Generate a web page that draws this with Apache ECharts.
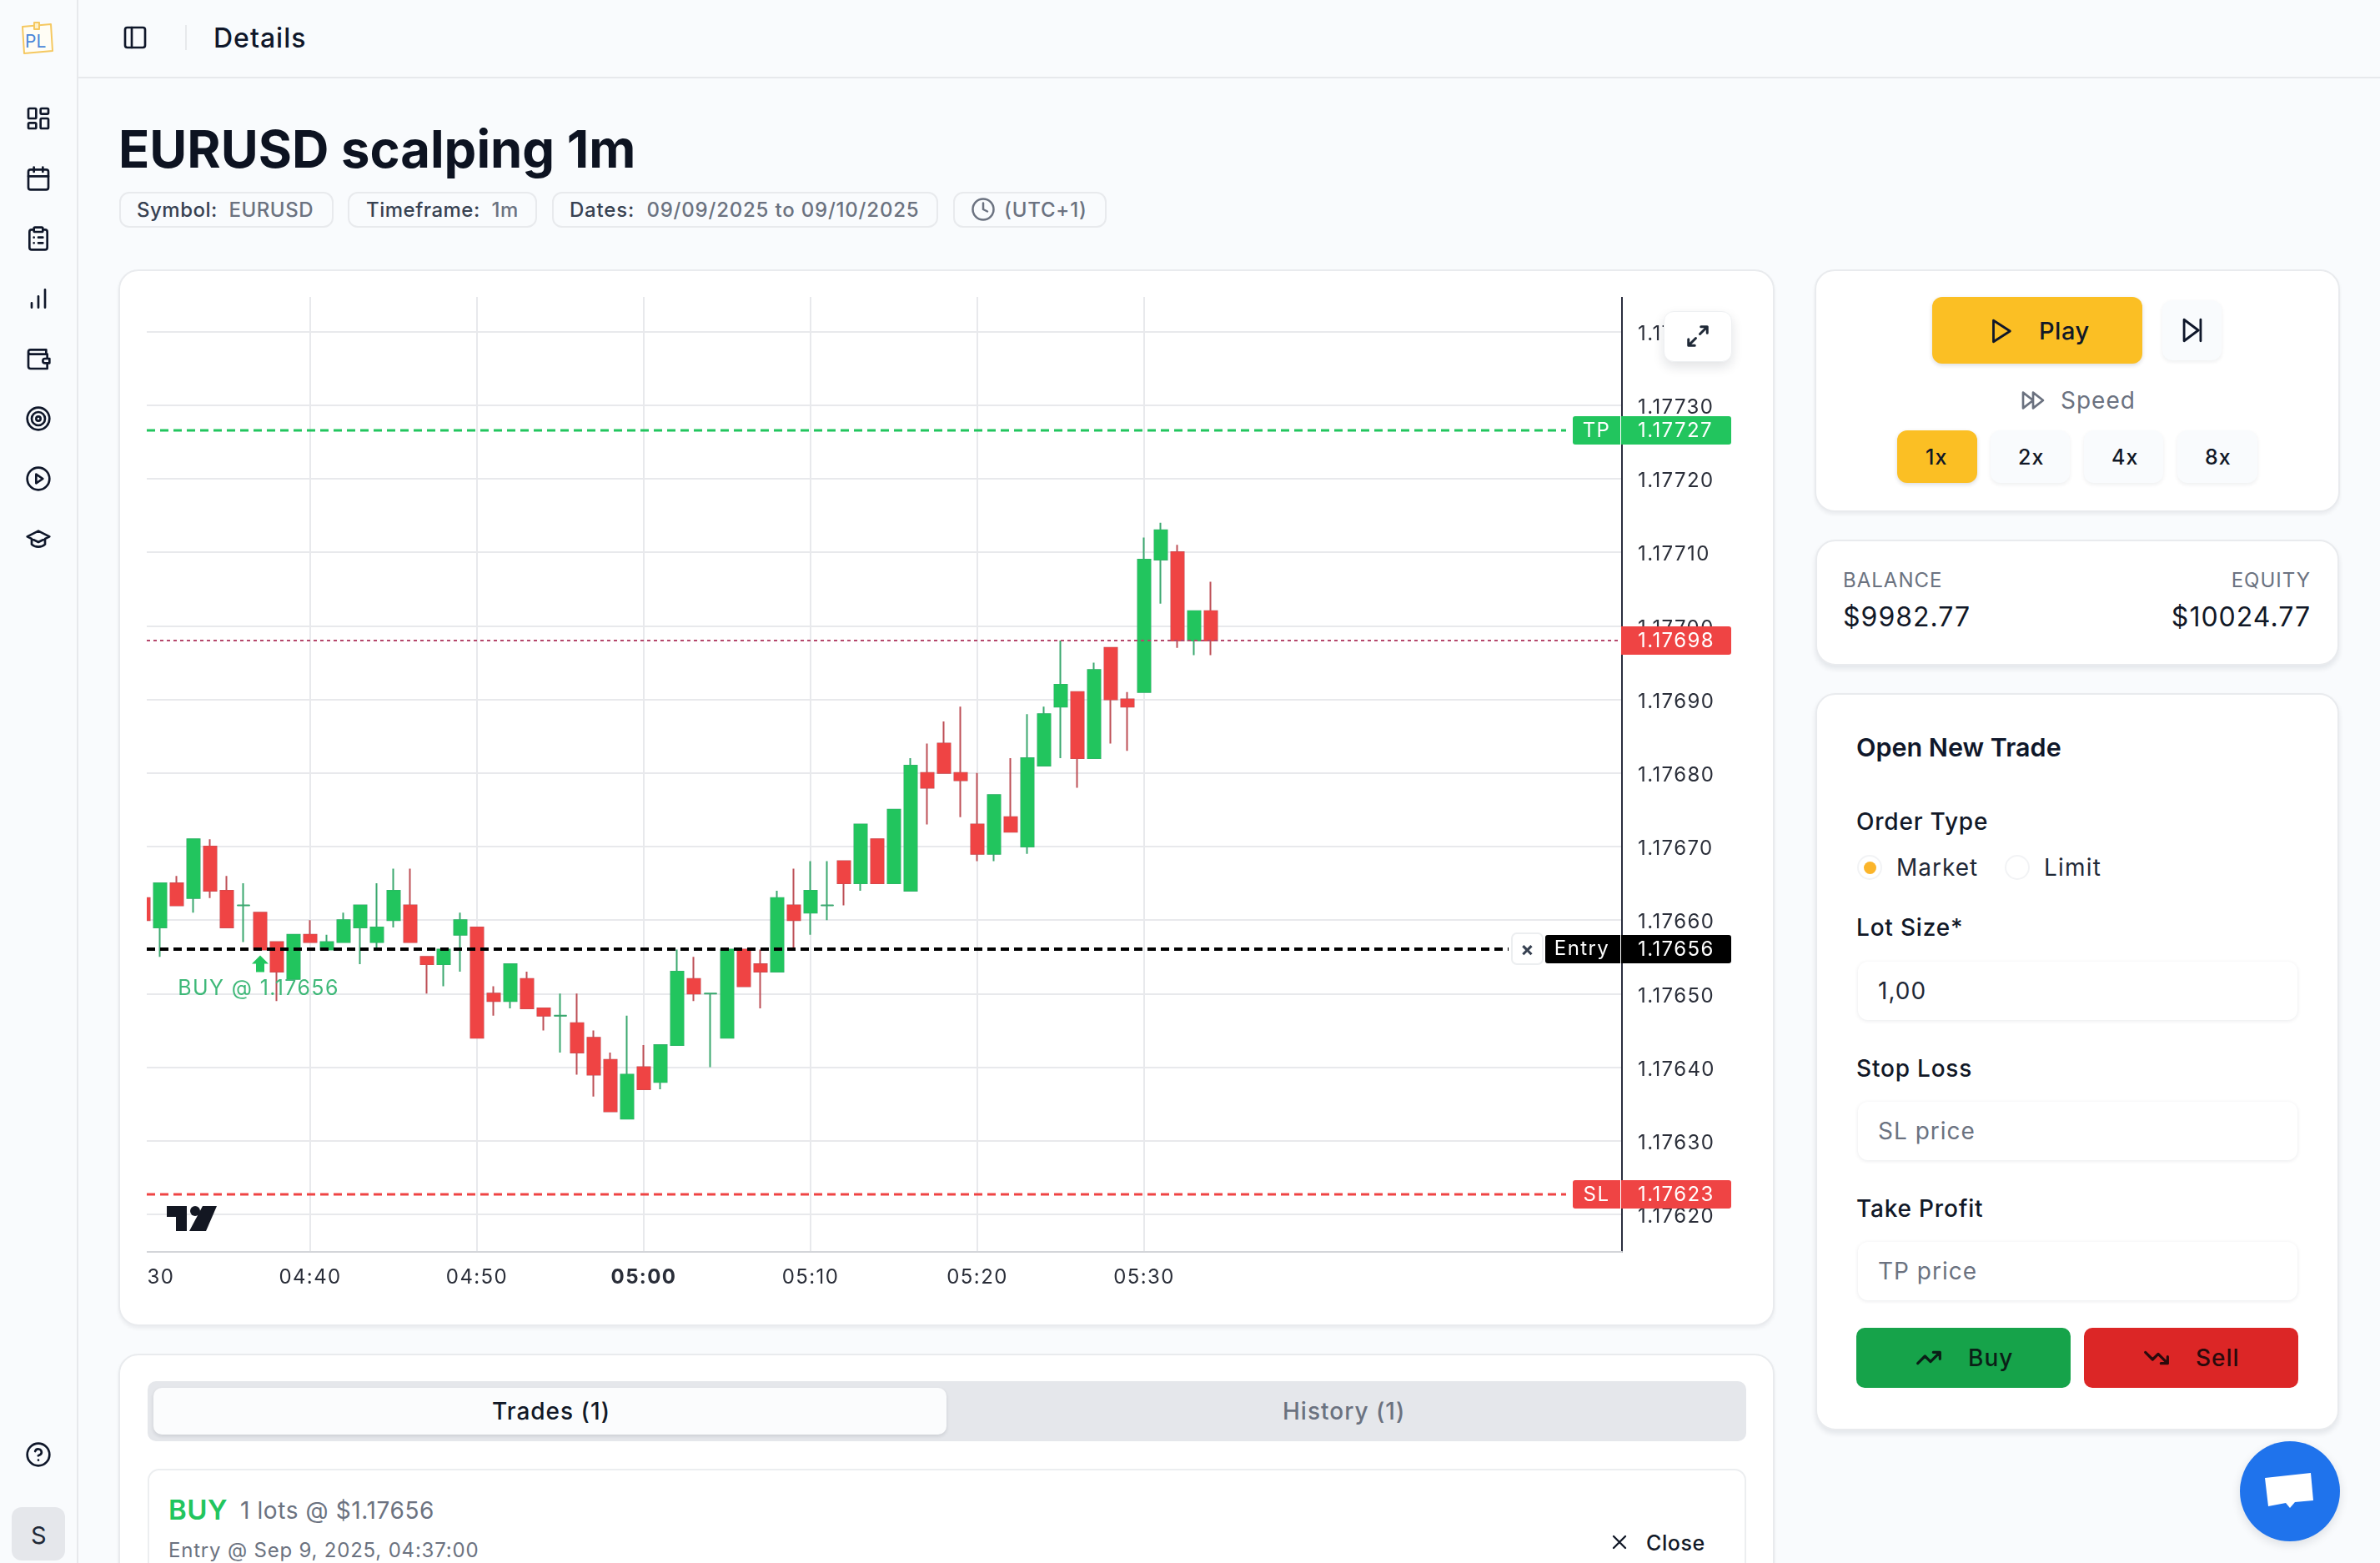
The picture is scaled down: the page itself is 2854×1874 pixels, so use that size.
<!DOCTYPE html>
<html>
<head>
<meta charset="utf-8">
<title>EURUSD scalping 1m</title>
<script src="https://cdn.jsdelivr.net/npm/echarts@6/dist/echarts.min.js"></script>
<style>
html,body{margin:0;padding:0;width:2854px;height:1874px;overflow:hidden;background:#f9fbfd;font-family:Inter,sans-serif;color:#0f172a}
.t{position:absolute;transform:translateY(-50%);white-space:nowrap;letter-spacing:1px}
.b{position:absolute;box-sizing:border-box}
.card{background:#fff;border:2px solid #e9ebee;border-radius:24px;box-shadow:0 3px 4px rgba(15,23,42,.06)}
.pill{border:2px solid #e8eaed;border-radius:12px;top:230px;height:43px}
.ptxt{top:251px;font-size:24px;color:#374151;font-weight:500;letter-spacing:.5px}
.soft{background:#f9fbfd;border-radius:12px;box-shadow:0 2px 5px rgba(15,23,42,.07)}
.yellow{background:#fbbf24;border-radius:12px;box-shadow:0 2px 5px rgba(15,23,42,.15)}
.inp{background:#fff;border-radius:12px;left:2228px;width:527px;height:70px;box-shadow:0 1px 5px rgba(15,23,42,.09)}
.lab{font-size:28px;font-weight:500;left:2226px;color:#111827;letter-spacing:.8px}
.grey{color:#6b7280}
svg{position:absolute;fill:none;stroke:#0f172a;stroke-width:2;stroke-linecap:round;stroke-linejoin:round}
#chart{position:absolute;left:176px;top:356px;width:1910px;height:1210px}
</style>
</head>
<body>
<!-- sidebar + header -->
<div class="b" style="left:92px;top:0;width:2px;height:1874px;background:#e7e9ec"></div>
<div class="b" style="left:92px;top:92px;width:2762px;height:2px;background:#e7e9ec"></div>
<svg style="left:25px;top:26px" width="40" height="40" viewBox="0 0 40 40"><path d="M2 6 L36 3 L38 35 L4 38 Z" stroke="#f5c860" fill="#fffdf5"/><rect x="16" y="1" width="6" height="8" stroke="#f5c860" fill="#fdf0c8"/><text x="5" y="31" font-family="Inter" font-size="21" fill="#4a86d8" stroke="none">PL</text></svg>
<svg style="left:30px;top:126px" width="32" height="32" viewBox="0 0 24 24"><rect x="3" y="3" width="7" height="9" rx="1"/><rect x="14" y="3" width="7" height="5" rx="1"/><rect x="14" y="12" width="7" height="9" rx="1"/><rect x="3" y="16" width="7" height="5" rx="1"/></svg>
<svg style="left:30px;top:198px" width="32" height="32" viewBox="0 0 24 24"><rect x="3" y="4" width="18" height="18" rx="2"/><path d="M8 2v4M16 2v4M3 10h18"/></svg>
<svg style="left:30px;top:270px" width="32" height="32" viewBox="0 0 24 24"><rect x="8" y="2" width="8" height="4" rx="1"/><path d="M16 4h2a2 2 0 0 1 2 2v14a2 2 0 0 1-2 2H6a2 2 0 0 1-2-2V6a2 2 0 0 1 2-2h2M12 11h4M12 16h4M8 11h.01M8 16h.01"/></svg>
<svg style="left:30px;top:342px" width="32" height="32" viewBox="0 0 24 24"><path d="M6 20v-4M12 20V10M18 20V4"/></svg>
<svg style="left:30px;top:414px" width="32" height="32" viewBox="0 0 24 24"><path d="M19 7V4H5a2 2 0 0 0 0 4h15v3M3 6v13a2 2 0 0 0 2 2h15v-5"/><path d="M18 12a2 2 0 0 0 0 4h4v-4z"/></svg>
<svg style="left:30px;top:486px" width="32" height="32" viewBox="0 0 24 24"><circle cx="12" cy="12" r="10"/><circle cx="12" cy="12" r="6"/><circle cx="12" cy="12" r="2"/></svg>
<svg style="left:30px;top:558px" width="32" height="32" viewBox="0 0 24 24"><circle cx="12" cy="12" r="10"/><path d="M10 8l6 4-6 4z"/></svg>
<svg style="left:30px;top:630px" width="32" height="32" viewBox="0 0 24 24"><path d="M22 10L12 5 2 10l10 5 10-5zM6 12v5c3 3 9 3 12 0v-5"/></svg>
<svg style="left:30px;top:1728px" width="32" height="32" viewBox="0 0 24 24"><circle cx="12" cy="12" r="10"/><path d="M9.1 9a3 3 0 0 1 5.8 1c0 2-3 3-3 3M12 17h.01"/></svg>
<div class="b" style="left:14px;top:1807px;width:64px;height:64px;border-radius:12px;background:#e5e7eb"></div>
<div class="t" style="left:37px;top:1840px;font-size:29px;color:#1f2937">S</div>
<svg style="left:146px;top:29px" width="32" height="32" viewBox="0 0 24 24"><rect x="3" y="3" width="18" height="18" rx="2"/><path d="M9 3v18"/></svg>
<div class="b" style="left:222px;top:30px;width:2px;height:30px;background:#e7e9ec"></div>
<div class="t" style="left:256px;top:45px;font-size:32px;font-weight:500">Details</div>

<!-- title row -->
<div class="t" style="left:142px;top:178px;font-size:61.5px;font-weight:700;letter-spacing:0;color:#0d1321">EURUSD scalping 1m</div>
<div class="b pill" style="left:143px;width:257px"></div>
<div class="t ptxt" style="left:164px">Symbol:&nbsp; <span class="grey">EURUSD</span></div>
<div class="b pill" style="left:417px;width:227px"></div>
<div class="t ptxt" style="left:439px">Timeframe:&nbsp; <span class="grey">1m</span></div>
<div class="b pill" style="left:662px;width:463px"></div>
<div class="t ptxt" style="left:683px;letter-spacing:.8px">Dates:&nbsp; <span class="grey">09/09/2025 to 09/10/2025</span></div>
<div class="b pill" style="left:1143px;width:184px"></div>
<svg style="left:1164px;top:236px;stroke:#6b7280" width="30" height="30" viewBox="0 0 24 24"><circle cx="12" cy="12" r="10"/><path d="M12 6v6l4 2"/></svg>
<div class="t ptxt" style="left:1204px;color:#6b7280;letter-spacing:.8px">(UTC+1)</div>

<!-- chart card -->
<div class="b card" style="left:142px;top:323px;width:1986px;height:1267px"></div>
<div id="chart"></div>
<svg style="left:200px;top:1446px;stroke:none;fill:#131722" width="60" height="30" viewBox="0 0 60 30"><path d="M0 0H24V30H11V13H0Z"/><circle cx="34" cy="6" r="6"/><path d="M43 0H60L47 30H27Z"/></svg>
<div class="b" style="left:1995px;top:373px;width:82px;height:61px;background:#fff;border-radius:12px;border:1px solid #eef0f2;box-shadow:0 6px 14px rgba(15,23,42,.12)"></div>
<svg style="left:2021px;top:388px;stroke:#1f2937;stroke-width:2.4" width="30" height="30" viewBox="0 0 24 24"><path d="M21 3l-7 7M3 21l7-7M15 3h6v6M3 15v6h6"/></svg>

<!-- trades panel -->
<div class="b card" style="left:142px;top:1623px;width:1986px;height:320px"></div>
<div class="b" style="left:177px;top:1656px;width:1917px;height:72px;border-radius:10px;background:#e5e7eb"></div>
<div class="b" style="left:184px;top:1664px;width:951px;height:56px;border-radius:10px;background:#fbfcfd;box-shadow:0 2px 4px rgba(15,23,42,.12)"></div>
<div class="t" style="left:590px;top:1692px;font-size:28px;font-weight:500;color:#111827">Trades (1)</div>
<div class="t" style="left:1538px;top:1692px;font-size:28px;font-weight:500;color:#6b7280">History (1)</div>
<div class="b" style="left:177px;top:1761px;width:1917px;height:200px;border-radius:14px;background:#fff;border:2px solid #eceef0"></div>
<div class="t" style="left:202px;top:1810px;font-size:33px;font-weight:600;color:#22c55e;letter-spacing:0.5px">BUY</div>
<div class="t" style="left:288px;top:1811px;font-size:28px;color:#6b7280;letter-spacing:.6px">1 lots @ $1.17656</div>
<div class="t" style="left:202px;top:1858px;font-size:24px;color:#6b7280;letter-spacing:.8px">Entry @ Sep 9, 2025, 04:37:00</div>
<svg style="left:1928px;top:1835px;stroke:#111827" width="28" height="28" viewBox="0 0 24 24"><path d="M18 6L6 18M6 6l12 12"/></svg>
<div class="t" style="left:1974px;top:1850px;font-size:25px;font-weight:500;color:#111827;letter-spacing:.6px">Close</div>

<!-- replay card -->
<div class="b card" style="left:2176px;top:323px;width:630px;height:291px"></div>
<div class="b yellow" style="left:2317px;top:356px;width:252px;height:80px"></div>
<svg style="left:2382px;top:380px" width="34" height="34" viewBox="0 0 24 24"><path d="M6 3l14 9-14 9z"/></svg>
<div class="t" style="left:2445px;top:396px;font-size:29px;font-weight:500;color:#111827;letter-spacing:0.5px">Play</div>
<div class="b soft" style="left:2593px;top:360px;width:71px;height:72px"></div>
<svg style="left:2612px;top:379px" width="34" height="34" viewBox="0 0 24 24"><path d="M5 3l12 9-12 9zM19 3v18"/></svg>
<svg style="left:2422px;top:464px;stroke:#6b7280" width="32" height="32" viewBox="0 0 24 24"><path d="M3 5l9 7-9 7zM12 5l9 7-9 7z"/></svg>
<div class="t" style="left:2471px;top:480px;font-size:28px;color:#6b7280">Speed</div>
<div class="b yellow" style="left:2275px;top:516px;width:96px;height:63px"></div>
<div class="b soft" style="left:2387px;top:516px;width:95px;height:63px"></div>
<div class="b soft" style="left:2499px;top:516px;width:95px;height:63px"></div>
<div class="b soft" style="left:2611px;top:516px;width:96px;height:63px"></div>
<div class="t" style="left:2309px;top:548px;font-size:25px;font-weight:500;color:#111827">1x</div>
<div class="t" style="left:2420px;top:548px;font-size:25px;font-weight:500;color:#111827">2x</div>
<div class="t" style="left:2532px;top:548px;font-size:25px;font-weight:500;color:#111827">4x</div>
<div class="t" style="left:2644px;top:548px;font-size:25px;font-weight:500;color:#111827">8x</div>

<!-- account card -->
<div class="b card" style="left:2177px;top:647px;width:628px;height:151px;box-shadow:0 4px 6px rgba(15,23,42,.09)"></div>
<div class="t grey" style="left:2210px;top:695px;font-size:24px">BALANCE</div>
<div class="t grey" style="right:83px;top:695px;font-size:24px">EQUITY</div>
<div class="t" style="left:2210px;top:739px;font-size:32px;color:#111827">$9982.77</div>
<div class="t" style="right:83px;top:739px;font-size:32px;color:#111827">$10024.77</div>

<!-- order form -->
<div class="b card" style="left:2177px;top:831px;width:628px;height:884px;box-shadow:0 4px 6px rgba(15,23,42,.09)"></div>
<div class="t" style="left:2226px;top:895px;font-size:30.5px;font-weight:600;letter-spacing:0;color:#0f172a">Open New Trade</div>
<div class="t lab" style="top:985px">Order Type</div>
<div class="b" style="left:2227px;top:1025px;width:30px;height:30px;border-radius:50%;border:2px solid #f2f3f5"></div>
<div class="b" style="left:2235px;top:1033px;width:15px;height:15px;border-radius:50%;background:#fbb52b"></div>
<div class="t" style="left:2274px;top:1040px;font-size:28px;color:#1f2937;letter-spacing:1px">Market</div>
<div class="b" style="left:2404px;top:1025px;width:30px;height:30px;border-radius:50%;border:2px solid #f2f3f5"></div>
<div class="t" style="left:2451px;top:1040px;font-size:28px;color:#1f2937;letter-spacing:1.2px">Limit</div>
<div class="t lab" style="top:1112px">Lot Size*</div>
<div class="b inp" style="top:1153px"></div>
<div class="t" style="left:2252px;top:1188px;font-size:28px;color:#1f2937">1,00</div>
<div class="t lab" style="top:1281px">Stop Loss</div>
<div class="b inp" style="top:1321px"></div>
<div class="t grey" style="left:2252px;top:1356px;font-size:28px">SL price</div>
<div class="t lab" style="top:1449px">Take Profit</div>
<div class="b inp" style="top:1489px"></div>
<div class="t grey" style="left:2252px;top:1524px;font-size:28px">TP price</div>
<div class="b" style="left:2226px;top:1592px;width:257px;height:72px;border-radius:10px;background:#16a34a"></div>
<svg style="left:2297px;top:1612px;stroke:#0b1f17;stroke-width:2.4" width="32" height="32" viewBox="0 0 24 24"><path d="M22 7l-8.5 8.5-5-5L2 17M16 7h6v6"/></svg>
<div class="t" style="left:2360px;top:1628px;font-size:28px;font-weight:500;color:#0b1f17">Buy</div>
<div class="b" style="left:2499px;top:1592px;width:257px;height:72px;border-radius:10px;background:#dc2626"></div>
<svg style="left:2570px;top:1612px;stroke:#2a0a0c;stroke-width:2.4" width="32" height="32" viewBox="0 0 24 24"><path d="M22 17l-8.5-8.5-5 5L2 7M16 17h6v-6"/></svg>
<div class="t" style="left:2633px;top:1628px;font-size:28px;font-weight:500;color:#2a0a0c">Sell</div>

<!-- chat bubble -->
<div class="b" style="left:2686px;top:1728px;width:120px;height:120px;border-radius:50%;background:#1f73ec;box-shadow:0 4px 12px rgba(15,23,42,.12)"></div>
<svg style="left:2706px;top:1756px;stroke:none;fill:#fff" width="80" height="64" viewBox="0 0 80 64"><path d="M10 16L65 10L68 43L46 45L40 52L35 46L14 50Z"/></svg>

<script>
// bars, one per minute
const times = ['04:30','04:31','04:32','04:33','04:34','04:35','04:36','04:37','04:38','04:39',
  '04:40','04:41','04:42','04:43','04:44','04:45','04:46','04:47','04:48','04:49',
  '04:50','04:51','04:52','04:53','04:54','04:55','04:56','04:57','04:58','04:59',
  '05:00','05:01','05:02','05:03','05:04','05:05','05:06','05:07','05:08','05:09',
  '05:10','05:11','05:12','05:13','05:14','05:15','05:16','05:17','05:18','05:19',
  '05:20','05:21','05:22','05:23','05:24','05:25','05:26','05:27','05:28','05:29',
  '05:30','05:31','05:32','05:33','05:34'];
const opens = [1.17663,1.17659,1.17665,1.17663,1.17670,1.17664,1.17662,1.17661,1.17657,1.17652,
  1.17658,1.17656,1.17657,1.17659,1.17657,1.17660,1.17662,1.17655,1.17654,1.17658,
  1.17659,1.17650,1.17649,1.17652,1.17648,1.17647,1.17646,1.17644,1.17641,1.17633,
  1.17640,1.17638,1.17643,1.17652,1.17650,1.17644,1.17656,1.17654,1.17653,1.17662,
  1.17661,1.17662,1.17668,1.17665,1.17671,1.17665,1.17664,1.17680,1.17684,1.17680,
  1.17673,1.17669,1.17674,1.17670,1.17681,1.17689,1.17691,1.17682,1.17697,1.17690,
  1.17691,1.17709,1.17710,1.17698,1.17702];
const closes = [1.17660,1.17665,1.17662,1.17671,1.17664,1.17659,1.17662,1.17656,1.17653,1.17658,
  1.17657,1.17657,1.17660,1.17662,1.17659,1.17664,1.17657,1.17654,1.17656,1.17660,
  1.17644,1.17649,1.17654,1.17648,1.17647,1.17647,1.17642,1.17639,1.17634,1.17639,
  1.17637,1.17643,1.17653,1.17650,1.17650,1.17656,1.17651,1.17653,1.17663,1.17660,
  1.17664,1.17662,1.17665,1.17673,1.17665,1.17675,1.17681,1.17678,1.17680,1.17679,
  1.17669,1.17677,1.17672,1.17682,1.17688,1.17692,1.17682,1.17694,1.17690,1.17689,
  1.17709,1.17713,1.17698,1.17702,1.17698];
const lows = [1.17660,1.17655,1.17662,1.17661,1.17663,1.17659,1.17657,1.17656,1.17649,1.17652,
  1.17657,1.17656,1.17657,1.17654,1.17656,1.17659,1.17657,1.17650,1.17651,1.17653,
  1.17644,1.17647,1.17648,1.17648,1.17645,1.17642,1.17639,1.17636,1.17634,1.17633,
  1.17637,1.17637,1.17643,1.17649,1.17640,1.17644,1.17651,1.17648,1.17653,1.17656,
  1.17658,1.17660,1.17662,1.17664,1.17665,1.17665,1.17664,1.17673,1.17680,1.17674,
  1.17668,1.17668,1.17672,1.17669,1.17681,1.17682,1.17678,1.17682,1.17684,1.17683,
  1.17691,1.17703,1.17697,1.17696,1.17696];
const highs = [1.17663,1.17665,1.17666,1.17671,1.17671,1.17666,1.17665,1.17661,1.17657,1.17658,
  1.17660,1.17658,1.17661,1.17662,1.17665,1.17667,1.17667,1.17655,1.17656,1.17661,
  1.17659,1.17651,1.17654,1.17653,1.17648,1.17650,1.17650,1.17645,1.17642,1.17647,
  1.17643,1.17643,1.17656,1.17655,1.17650,1.17656,1.17656,1.17656,1.17664,1.17667,
  1.17668,1.17668,1.17668,1.17673,1.17671,1.17675,1.17682,1.17684,1.17687,1.17689,
  1.17680,1.17677,1.17682,1.17688,1.17689,1.17698,1.17691,1.17695,1.17697,1.17691,
  1.17712,1.17714,1.17711,1.17702,1.17706];

// axis ticks
const priceTicks = [1.1762,1.1763,1.1764,1.1765,1.1766,1.1767,1.1768,1.1769,1.177,1.1771,1.1772,1.1773,1.1774];
const timeTicks = ['04:30','04:40','04:50','05:00','05:10','05:20','05:30'];
const boldTime = '05:00';

// horizontal levels
const levelNames = ['TP','SL','Entry','Last'];
const levelPrices = [1.177266,1.176227,1.17656,1.17698];

// the trade
const tradeTime = '04:37';
const tradePrice = 1.17656;
const tradeLabel = 'BUY @ 1.17656';

const toMin = s => { const p = s.split(':'); return +p[0]*60 + +p[1]; };
const fromMin = m => String(Math.floor(m/60)).padStart(2,'0') + ':' + String(m%60).padStart(2,'0');

const UP = '#22c55e', DOWN = '#ef4444', WICK_UP = '#3ba86f', WICK_DOWN = '#bd4f56';
const FONT = '24px Inter, sans-serif';

// canvas text has no css letter-spacing, the reference is tracked out a bit
const fillText0 = CanvasRenderingContext2D.prototype.fillText;
CanvasRenderingContext2D.prototype.fillText = function(){
  this.letterSpacing = '1.4px';
  return fillText0.apply(this, arguments);
};

const wickData = times.map((t,i) => [toMin(t), opens[i], closes[i], lows[i], highs[i]]);
const bodyData = times.map((t,i) => [toMin(t), opens[i], closes[i],
  Math.min(opens[i],closes[i]), Math.max(opens[i],closes[i])]);

const levelStyle = {
  TP:    {color:UP,        lineDash:[10,6], width:3, tagW:57},
  SL:    {color:DOWN,      lineDash:[10,6], width:3, tagW:57},
  Entry: {color:'#000',    lineDash:[10,6], width:4, tagW:90},
  Last:  {color:DOWN,      lineDash:[4,4], width:2, tagW:0, lineColor:'#b5476b'}
};

function renderLevel(params, api){
  const name = levelNames[params.dataIndex];
  const st = levelStyle[name];
  const price = api.value(0);
  const rect = params.coordSys;
  const right = rect.x + rect.width;
  const y = Math.round(api.coord([toMin(times[0]), price])[1]);
  const h = 34, tagGap = 2, tagEnd = right - tagGap;
  const children = [];
  let lineEnd = right - 4;
  if (st.tagW) lineEnd = tagEnd - st.tagW - 2;
  if (name === 'Entry') lineEnd -= 42;
  else if (st.tagW) lineEnd -= 6;
  // rect.x sits just off the canvas, start at the visible edge so the dash phase is right
  children.push({type:'line', shape:{x1:rect.x+4, y1:y, x2:lineEnd, y2:y},
    style:{stroke:st.lineColor || st.color, lineWidth:st.width, lineDash:st.lineDash}});
  if (st.tagW) {
    children.push({type:'rect', shape:{x:tagEnd-st.tagW, y:y-h/2, width:st.tagW, height:h, r:[3,0,0,3]}, style:{fill:st.color}});
    children.push({type:'text', style:{text:name, x:tagEnd-st.tagW/2-(name==='Entry'?1:0), y:y+(name==='Entry'?0:1), align:'center', verticalAlign:'middle', font:FONT, fill:'#fff'}});
  }
  if (name === 'Entry') {
    children.push({type:'rect', shape:{x:tagEnd-st.tagW-40, y:y-19, width:37, height:37, r:6},
      style:{fill:'#fff', stroke:'#eceef0', lineWidth:2}});
    children.push({type:'text', style:{text:'×', x:tagEnd-st.tagW-21, y:y+1, align:'center', verticalAlign:'middle', font:'700 24px Inter, sans-serif', fill:'#374151'}});
  }
  children.push({type:'rect', shape:{x:right-1, y:y-h/2, width:132, height:h, r:[0,3,3,0]}, style:{fill:st.color}});
  children.push({type:'text', style:{text:(+price).toFixed(5), x:right+19, y:y+1, align:'left', verticalAlign:'middle', font:FONT, fill:'#fff'}});
  return {type:'group', children:children};
}

function renderTrade(params, api){
  const p = api.coord([api.value(0), api.value(1)]);
  const x = p[0], y = p[1];
  return {type:'group', children:[
    {type:'polygon', shape:{points:[[x,y+7],[x+10,y+17],[x+5,y+17],[x+5,y+27],[x-5,y+27],[x-5,y+17],[x-10,y+17]]}, style:{fill:UP}},
    {type:'text', style:{text:tradeLabel, x:x-2, y:y+47, align:'center', verticalAlign:'middle', font:'25px Inter, sans-serif', fill:'#3eb878'}}
  ]};
}

const chart = echarts.init(document.getElementById('chart'));
chart.setOption({
  animation:false,
  grid:{left:-4, top:0, width:1773, height:1145, outerBoundsMode:'none'},
  xAxis:{
    type:'value', min:toMin(times[0]), max:358.65,
    axisLine:{onZero:false, lineStyle:{color:'#d3d5d9', width:2}},
    axisTick:{show:false, customValues:timeTicks.map(toMin)},
    splitLine:{show:true, lineStyle:{color:'#e8e9ec', width:2}},
    axisLabel:{
      customValues:timeTicks.map(toMin), margin:19, color:'#2a2e39', fontFamily:'Inter', fontSize:24,
      showMinLabel:true, hideOverlap:false,
      formatter:v => fromMin(v)===boldTime ? '{b|'+fromMin(v)+'}' : fromMin(v),
      rich:{b:{fontFamily:'Inter', fontSize:24, fontWeight:700, color:'#2a2e39'}}
    }
  },
  yAxis:{
    type:'value', position:'right', scale:true, min:1.176149, max:1.177447,
    axisLine:{show:true, onZero:false, lineStyle:{color:'#2a2d3e', width:2}},
    axisTick:{show:false, customValues:priceTicks},
    splitLine:{show:true, lineStyle:{color:'#e8e9ec', width:2}},
    axisLabel:{customValues:priceTicks, margin:19, color:'#2a2e39', fontFamily:'Inter', fontSize:24,
      formatter:v => '{p|' + v.toFixed(5) + '}',
      rich:{p:{fontFamily:'Inter', fontSize:24, color:'#2a2e39', padding:[6,0,0,0]}}}
  },
  series:[
    {name:'wicks', type:'candlestick', barWidth:16, data:wickData, encode:{x:0, y:[1,2,3,4]}, z:2,
      itemStyle:{color:WICK_UP, color0:WICK_DOWN, borderColor:WICK_UP, borderColor0:WICK_DOWN, borderColorDoji:WICK_UP, borderWidth:2}},
    {name:'bodies', type:'candlestick', barWidth:16, data:bodyData, encode:{x:0, y:[1,2,3,4]}, z:3,
      itemStyle:{color:UP, color0:DOWN, borderColor:UP, borderColor0:DOWN, borderColorDoji:WICK_UP, borderWidth:1}},
    {name:'trade', type:'custom', z:4, data:[[toMin(tradeTime), tradePrice]], encode:{x:0, y:1}, renderItem:renderTrade},
    {name:'levels', type:'custom', z:5, clip:false, data:levelPrices.map(p => [p]), encode:{y:0}, renderItem:renderLevel}
  ]
});
</script>
</body>
</html>
